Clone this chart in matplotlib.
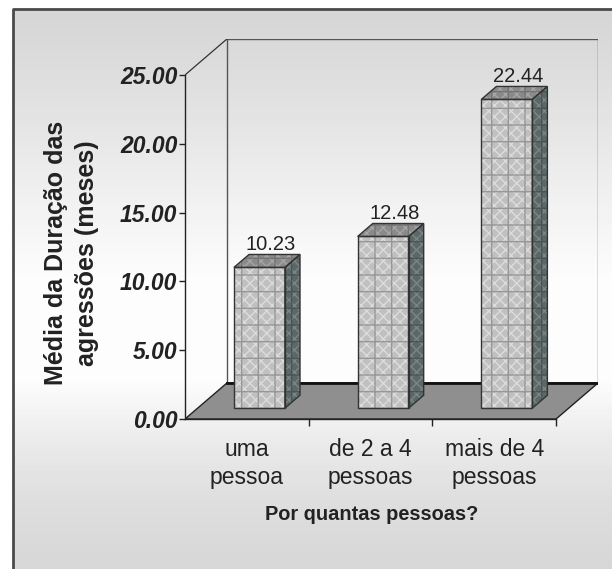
import numpy as np
import matplotlib.pyplot as plt
from matplotlib.patches import Polygon

# Data
categories = ["uma\npessoa", "de 2 a 4\npessoas", "mais de 4\npessoas"]
values = [10.23, 12.48, 22.44]
value_labels = ["10.23", "12.48", "22.44"]
yticks = [0, 5, 10, 15, 20, 25]

plt.rcParams['font.family'] = ['Liberation Sans', 'DejaVu Sans']

W, H = 612, 569
fig = plt.figure(figsize=(W / 100, H / 100), dpi=100)

# background gradient inside the frame (pixel coords)
bg = fig.add_axes([0, 0, 1, 1], zorder=-5)
bg.set_xlim(0, W)
bg.set_ylim(H, 0)
bg.axis("off")
stops_y = [9, 60, 130, 210, 280, 380, 440, 500, 569]
stops_g = [0.835, 0.86, 0.90, 0.95, 0.99, 0.99, 0.92, 0.87, 0.84]
rows = np.interp(np.arange(9, H), stops_y, stops_g)
grad = np.repeat(rows[:, None], 2, axis=1)
bg.imshow(grad, cmap="gray", vmin=0, vmax=1, extent=[13, W, H, 9], aspect="auto")
bg.plot([13, 13, W], [H, 9, 9], color="#4a4a4a", lw=2, solid_capstyle="butt")

# 3D-ish box geometry (data units)
n = len(values)
ymax = 25
dxd = 0.339            # floor depth, x
dyd = 2.616            # floor depth, y
f0, f1 = 0.30, 0.66    # bar depth span (fraction of floor)
bw = 0.412

left, right, bottom, top = 185, 598, 419, 39
ax = fig.add_axes([left / W, 1 - bottom / H, (right - left) / W, (bottom - top) / H])
ax.set_xlim(0, n + dxd)
ax.set_ylim(0, ymax + dyd)
ax.set_facecolor("none")
for s in ["top", "right"]:
    ax.spines[s].set_visible(False)
ax.spines["left"].set_bounds(0, ymax)
ax.spines["bottom"].set_bounds(0, n)
for s in ["left", "bottom"]:
    ax.spines[s].set_color("#222222")
    ax.spines[s].set_linewidth(1.0)

# floor
floor = Polygon([(0, 0), (n, 0), (n + dxd, dyd), (dxd, dyd)], closed=True,
                facecolor="#8f8f8f", edgecolor="#222222", lw=1.0, zorder=1)
ax.add_patch(floor)
# back wall
ax.plot([dxd, dxd, n + dxd, n + dxd], [dyd, ymax + dyd, ymax + dyd, dyd],
        color="#555555", lw=1.0, zorder=0.5)
ax.plot([dxd, n + dxd], [dyd, dyd], color="#111111", lw=2.0, zorder=1.5)
ax.plot([0, dxd], [ymax, ymax + dyd], color="#333333", lw=0.9, zorder=0.5)

# bars
ox, oy = f0 * dxd, f0 * dyd
ddx, ddy = (f1 - f0) * dxd, (f1 - f0) * dyd
faces = [("#c0c0c0", "#dcdcdc", "#979797"),
         ("#5c6868", "#7a8686", "#4a5454"),
         ("#8a8a8a", "#a6a6a6", "#747474")]
for i, v in enumerate(values):
    c = i + 0.5
    L, R = c - bw / 2 + ox, c + bw / 2 + ox
    front = [(L, oy), (R, oy), (R, oy + v), (L, oy + v)]
    side = [(R, oy), (R + ddx, oy + ddy), (R + ddx, oy + ddy + v), (R, oy + v)]
    topf = [(L, oy + v), (R, oy + v), (R + ddx, oy + v + ddy), (L + ddx, oy + v + ddy)]
    for pts, (fc, dot, grid) in zip([front, side, topf], faces):
        ax.add_patch(Polygon(pts, closed=True, facecolor=fc, edgecolor=dot,
                             hatch="xxx", lw=0, zorder=3))
        ax.add_patch(Polygon(pts, closed=True, facecolor="none", edgecolor=grid,
                             hatch="+", lw=0, zorder=3.5))
        ax.add_patch(Polygon(pts, closed=True, facecolor="none",
                             edgecolor="#333333", lw=1.0, zorder=4))
    ax.text(c + ox + ddx * 0.75, oy + v + ddy + 0.36, value_labels[i],
            ha="center", va="baseline", fontsize=14.5, color="#222222", zorder=5)

# ticks
ax.set_yticks(yticks)
ax.set_yticklabels([f"{t:.2f}" for t in yticks], fontsize=16.5,
                   fontweight="bold", fontstyle="italic", color="#222222")
ax.tick_params(axis="y", direction="out", length=4.5, width=1, pad=1, color="#222222")
ax.set_xticks(range(1, n + 1))
ax.set_xticklabels([])
ax.tick_params(axis="x", which="major", direction="out", length=5, width=1, color="#222222")
ax.set_xticks([i + 0.5 for i in range(n)], minor=True)
ax.set_xticklabels(categories, minor=True, fontsize=16.5, color="#222222", linespacing=1.25)
ax.tick_params(axis="x", which="minor", length=0, pad=14)

fig.text(71.5 / W, 1 - 253 / H, "Média da Duração das\nagressões (meses)",
         rotation=90, ha="center", va="center", multialignment="center",
         fontsize=18, fontweight="bold", color="#222222", linespacing=1.35)
fig.text(372 / W, 1 - 515 / H, "Por quantas pessoas?", ha="center", va="center",
         fontsize=14.4, fontweight="bold", color="#222222")

fig.savefig("out.png", dpi=100)
